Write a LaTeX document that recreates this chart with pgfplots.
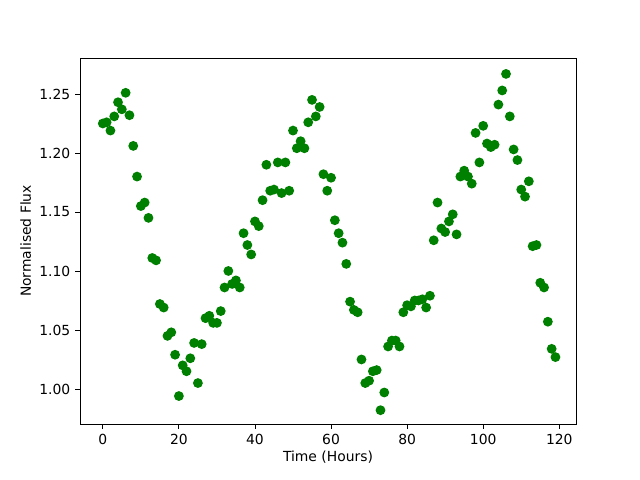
\documentclass[border=0pt]{standalone}
\usepackage{fontspec}
\setmainfont{DejaVu Sans}
\usepackage{pgfplots}
\pgfplotsset{compat=1.18}
\definecolor{mplgreen}{rgb}{0,0.5,0}
\begin{document}
\begin{tikzpicture}
\begin{axis}[
  at={(0,0)}, anchor=south west,
  scale only axis,
  width=357.12pt, height=263.52pt,
  xmin=-6, xmax=124.4,
  ymin=0.9703, ymax=1.2805,
  xtick={0,20,40,60,80,100,120},
  ytick={1.00,1.05,1.10,1.15,1.20,1.25},
  yticklabel style={/pgf/number format/.cd,fixed,fixed zerofill,precision=2},
  /pgf/number format/assume math mode=true,
  tick align=outside,
  tick pos=left,
  major tick length=3.5pt,
  tick style={black, line width=0.6pt},
  axis line style={line width=0.6pt},
  ticklabel style={font=\fontsize{10}{12}\selectfont},
  label style={font=\fontsize{10}{12}\selectfont},
  xlabel={Time (Hours)},
  ylabel={Normalised Flux},
  xlabel style={yshift=2pt},
  ylabel style={yshift=-1pt},
]
\addplot[only marks, mark=*, mark size=3pt, mplgreen, mark options={draw=mplgreen, fill=mplgreen, line width=1pt}] coordinates {
(0,1.225)(1,1.226)(2,1.219)(3,1.231)(4,1.243)(5,1.237)(6,1.251)(7,1.232)(8,1.206)(9,1.180)
(10,1.155)(11,1.158)(12,1.145)(13,1.111)(14,1.109)(15,1.072)(16,1.069)(17,1.045)(18,1.048)(19,1.029)
(20,0.994)(21,1.020)(22,1.015)(23,1.026)(24,1.039)(25,1.005)(26,1.038)(27,1.060)(28,1.062)(29,1.056)
(30,1.056)(31,1.066)(32,1.086)(33,1.100)(34,1.089)(35,1.092)(36,1.086)(37,1.132)(38,1.122)(39,1.114)
(40,1.142)(41,1.138)(42,1.160)(43,1.190)(44,1.168)(45,1.169)(46,1.192)(47,1.166)(48,1.192)(49,1.168)
(50,1.219)(51,1.204)(52,1.210)(53,1.204)(54,1.226)(55,1.245)(56,1.231)(57,1.239)(58,1.182)(59,1.168)
(60,1.179)(61,1.143)(62,1.132)(63,1.124)(64,1.106)(65,1.074)(66,1.067)(67,1.065)(68,1.025)(69,1.005)
(70,1.007)(71,1.015)(72,1.016)(73,0.982)(74,0.997)(75,1.036)(76,1.041)(77,1.041)(78,1.036)(79,1.065)
(80,1.071)(81,1.070)(82,1.075)(83,1.075)(84,1.076)(85,1.069)(86,1.079)(87,1.126)(88,1.158)(89,1.136)
(90,1.133)(91,1.142)(92,1.148)(93,1.131)(94,1.180)(95,1.185)(96,1.180)(97,1.174)(98,1.217)(99,1.192)
(100,1.223)(101,1.208)(102,1.205)(103,1.207)(104,1.241)(105,1.253)(106,1.267)(107,1.231)(108,1.203)(109,1.194)
(110,1.169)(111,1.163)(112,1.176)(113,1.121)(114,1.122)(115,1.090)(116,1.086)(117,1.057)(118,1.034)(119,1.027)
};
\end{axis}
\path[use as bounding box] (-57.6pt,-40.32pt) rectangle (403.2pt,305.28pt);
\end{tikzpicture}
\end{document}
